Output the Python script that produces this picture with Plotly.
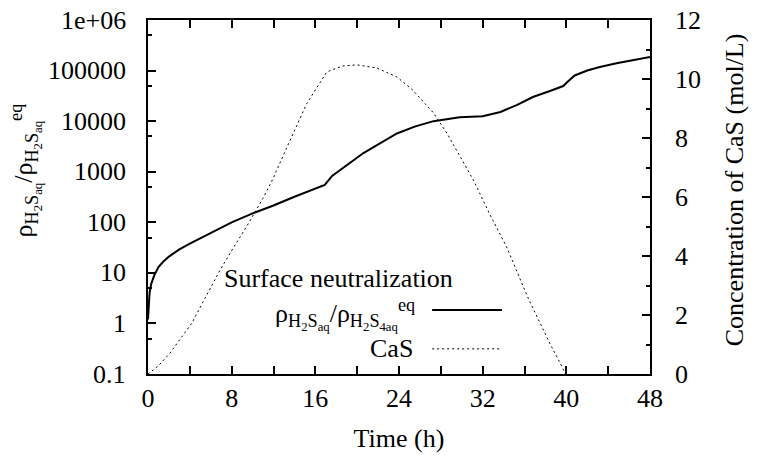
import math
import plotly.graph_objects as go

# Solid curve: rho ratio (left, log axis)
t_ratio = [0, 0.05, 0.15, 0.3, 0.6, 1, 1.5, 2, 3, 4, 6, 8, 10, 12, 14, 16.5, 16.9,
           17.6, 20.6, 23.8, 25.5, 27.3, 29.8, 32, 33.7, 35.3, 36.8, 38.5, 39.7,
           40.2, 40.8, 42, 43.2, 44.8, 46.4, 48]
ratio = [1.2, 2.5, 4.0, 6.0, 9.0, 13, 17, 21, 29, 38, 62, 100, 150, 215, 320, 500, 546,
         824, 2340, 5700, 7800, 10000, 12000, 12500, 15200, 21000, 30000, 40000, 49500,
         62000, 80000, 100000, 118000, 140000, 162000, 186000]

# Dotted curve: CaS concentration (right axis)
t_cas = [0, 1, 2.1, 3, 4.2, 5.5, 6.9, 8.2, 9.6, 11, 11.9, 13.3, 15.2, 17.1, 18.6, 20,
         21.9, 23.8, 25.3, 27.3, 28.6, 29.8, 31.1, 32.7, 34.3, 36.3, 38.4, 39.6, 39.9]
cas = [0, 0.28, 0.71, 1.15, 1.73, 2.6, 3.53, 4.3, 5.1, 5.96, 6.58, 7.7, 9.18, 10.24, 10.44,
       10.48, 10.37, 10.07, 9.63, 8.85, 8.15, 7.4, 6.58, 5.4, 4.3, 2.61, 1.05, 0.24, 0]

x_ticks = [0, 8, 16, 24, 32, 40, 48]
y_ticks = [0.1, 1, 10, 100, 1000, 10000, 100000, 1000000]
y_labels = ["0.1", "1", "10", "100", "1000", "10000", "100000", "1e+06"]
y_minor = [0.5, 5, 50, 500, 5000, 50000, 500000]
y2_ticks = [0, 2, 4, 6, 8, 10, 12]

FONT = "'Liberation Serif', 'Times New Roman', 'DejaVu Serif', serif"
FS = 26
TXT = dict(family=FONT, size=FS, color="black")

fig = go.Figure()
fig.add_trace(go.Scatter(x=t_ratio, y=ratio, mode="lines", yaxis="y",
                         line=dict(color="black", width=2), showlegend=False))
fig.add_trace(go.Scatter(x=t_cas, y=cas, mode="lines", yaxis="y2",
                         line=dict(color="black", width=1, dash="2px,3px"), showlegend=False))

rho = "ρ<sub>H<sub>2</sub>S<sub>aq</sub></sub>"

# legend drawn by hand (gnuplot style: text right, sample left)
fig.add_annotation(xref="paper", yref="paper", x=0.612, y=0.271, xanchor="right", yanchor="middle",
                   text="Surface neutralization", showarrow=False, font=TXT)
fig.add_annotation(xref="paper", yref="paper", x=0.536, y=0.168, xanchor="right", yanchor="middle",
                   text="ρ<sub>H<sub>2</sub>S<sub>aq</sub></sub>/ρ<sub>H<sub>2</sub>S<sub>4aq</sub></sub><sup>eq</sup>",
                   showarrow=False, font=TXT)
fig.add_annotation(xref="paper", yref="paper", x=0.532, y=0.072, xanchor="right", yanchor="middle",
                   text="CaS", showarrow=False, font=TXT)
fig.add_shape(type="line", xref="paper", yref="paper", x0=0.566, x1=0.705, y0=0.181, y1=0.181,
              line=dict(color="black", width=2))
fig.add_shape(type="line", xref="paper", yref="paper", x0=0.566, x1=0.705, y0=0.071, y1=0.071,
              line=dict(color="black", width=1, dash="2px,3px"))

# y tick labels placed on the axes' own scales (gnuplot puts them further from the frame)
for v, s in zip(y_ticks, y_labels):
    fig.add_annotation(xref="paper", yref="y", x=-0.04, y=math.log10(v), text=s,
                       xanchor="right", yanchor="middle", showarrow=False, font=TXT)
for v in y2_ticks:
    fig.add_annotation(xref="paper", yref="y2", x=1.046, y=v, text=str(v),
                       xanchor="left", yanchor="middle", showarrow=False, font=TXT)

# axis titles
fig.add_annotation(xref="paper", yref="paper", x=-0.245, y=0.575, textangle=-90,
                   xanchor="center", yanchor="middle",
                   text=rho + "/" + rho + "<sup>eq</sup>", showarrow=False, font=TXT)
fig.add_annotation(xref="paper", yref="paper", x=1.17, y=0.52, textangle=-90,
                   xanchor="center", yanchor="middle",
                   text="Concentration of CaS (mol/L)", showarrow=False, font=TXT)

axis_common = dict(showgrid=False, zeroline=False, showline=True, linecolor="black", linewidth=2,
                   ticks="inside", ticklen=8, tickwidth=1.5, tickcolor="black",
                   automargin=False, tickfont=TXT)

fig.update_layout(
    width=758, height=457,
    margin=dict(l=148, r=108, t=20, b=83, autoexpand=False),
    plot_bgcolor="white", paper_bgcolor="white",
    font=TXT,
    showlegend=False,
    xaxis=dict(range=[0, 48], tickvals=x_ticks, mirror="allticks",
               minor=dict(dtick=4, ticks="inside", ticklen=4, tickcolor="black"),
               title=dict(text="Time (h)", font=TXT, standoff=17),
               **axis_common),
    yaxis=dict(type="log", range=[-1, 6], tickvals=y_ticks, showticklabels=False,
               minor=dict(tickvals=y_minor, ticks="inside", ticklen=4, tickcolor="black"),
               **axis_common),
    yaxis2=dict(overlaying="y", side="right", range=[0, 12], tickvals=y2_ticks,
                minor=dict(dtick=1, ticks="inside", ticklen=4, tickcolor="black"),
                showticklabels=False,
                **axis_common),
)

fig.write_html("out.html", config={"displayModeBar": False},
               post_script="document.body.style.margin='0';")
